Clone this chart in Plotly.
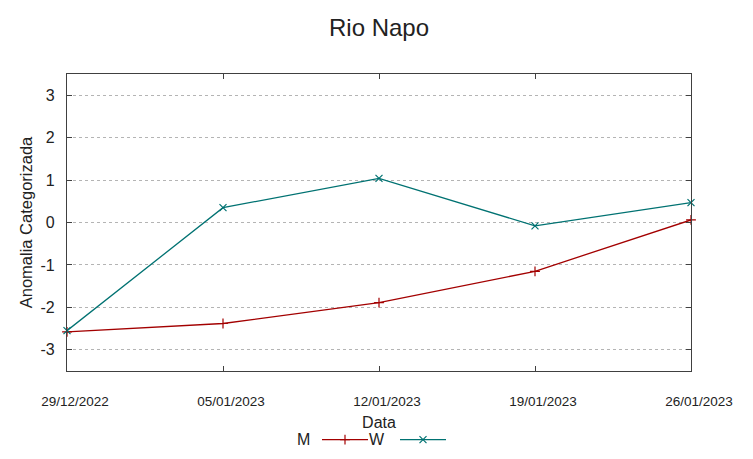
import plotly.graph_objects as go

dates = ["2022-12-29", "2023-01-05", "2023-01-12", "2023-01-19", "2023-01-26"]
date_labels = ["29/12/2022", "05/01/2023", "12/01/2023", "19/01/2023", "26/01/2023"]
m_values = [-2.58, -2.38, -1.89, -1.15, 0.06]
w_values = [-2.55, 0.35, 1.04, -0.08, 0.47]
y_ticks = [-3, -2, -1, 0, 1, 2, 3]
y_tick_labels = ["-3", "-2", "-1", "0", "1", "2", "3"]

M_COLOR = "#a30000"
W_COLOR = "#007272"
FONT = "Liberation Sans, Arial, sans-serif"
AX = "#404040"

fig = go.Figure()
fig.add_trace(go.Scatter(x=dates, y=m_values, mode="lines+markers", name="M",
                         line=dict(color=M_COLOR, width=1.3),
                         marker=dict(symbol="cross-thin", size=7, line=dict(color=M_COLOR, width=1.2)),
                         cliponaxis=False, showlegend=False))
fig.add_trace(go.Scatter(x=dates, y=w_values, mode="lines+markers", name="W",
                         line=dict(color=W_COLOR, width=1.3),
                         marker=dict(symbol="x-thin", size=7, line=dict(color=W_COLOR, width=1.2)),
                         cliponaxis=False, showlegend=False))

# manual gnuplot-style legend row (text left of sample) in its own small subplot
leg_names = ["M", "W"]
leg_colors = [M_COLOR, W_COLOR]
leg_symbols = ["cross-thin", "x-thin"]
leg_text_x = [236, 310]
leg_line = [(255, 301), (333, 379)]
for name, col, sym, tx, (a, b) in zip(leg_names, leg_colors, leg_symbols, leg_text_x, leg_line):
    fig.add_trace(go.Scatter(x=[a, (a + b) / 2, b], y=[0.5, 0.5, 0.5], mode="lines",
                             line=dict(color=col, width=1.3), xaxis="x2", yaxis="y2",
                             showlegend=False, hoverinfo="skip"))
    fig.add_trace(go.Scatter(x=[(a + b) / 2], y=[0.5], mode="markers",
                             marker=dict(symbol=sym, size=7, line=dict(color=col, width=1.2)),
                             xaxis="x2", yaxis="y2", showlegend=False, hoverinfo="skip"))
    fig.add_annotation(x=tx, y=0.5, xref="x2", yref="y2", text=name, showarrow=False,
                       xanchor="center", yanchor="middle", font=dict(size=16, color="#222"))

fig.update_layout(
    width=753, height=459,
    margin=dict(l=59, r=70, t=66, b=18, autoexpand=False),
    paper_bgcolor="white", plot_bgcolor="white",
    font=dict(family=FONT, color="#222"),
    title=dict(text="Rio Napo", x=(59 + 312) / 753, xanchor="center", y=1 - 20 / 459, yanchor="middle",
               yref="container", font=dict(size=24, color="#222")),
    xaxis=dict(type="date", range=[dates[0], dates[-1]], tickvals=dates, ticktext=date_labels,
               ticks="inside", ticklen=5, tickcolor=AX, mirror="allticks", showline=True,
               linecolor=AX, linewidth=1.2, showgrid=False, zeroline=False, automargin=False,
               tickfont=dict(size=13.5, color="#222"), ticklabelstandoff=18, ticklabelshift=8,
               title=dict(text="Data", font=dict(size=16, color="#222"), standoff=8),
               anchor="y"),
    yaxis=dict(range=[-3.5, 3.5], tickvals=y_ticks, ticktext=y_tick_labels, ticks="inside",
               ticklen=5, tickcolor=AX, mirror="allticks", showline=True, linecolor=AX, linewidth=1.2,
               showgrid=True, gridcolor="#b4b4b4", griddash="dot", gridwidth=1, zeroline=False,
               automargin=False,
               tickfont=dict(size=16, color="#222"), ticklabelstandoff=8,
               title=dict(text="Anomalia Categorizada", font=dict(size=16.5, color="#222"), standoff=3),
               domain=[1 - 297 / 375, 1]),
    xaxis2=dict(domain=[0, 1], range=[0, 624], visible=False, anchor="y2", automargin=False),
    yaxis2=dict(domain=[0, 0.05], range=[0, 1], visible=False, anchor="x2", automargin=False),
)

fig.write_html("out.html")
